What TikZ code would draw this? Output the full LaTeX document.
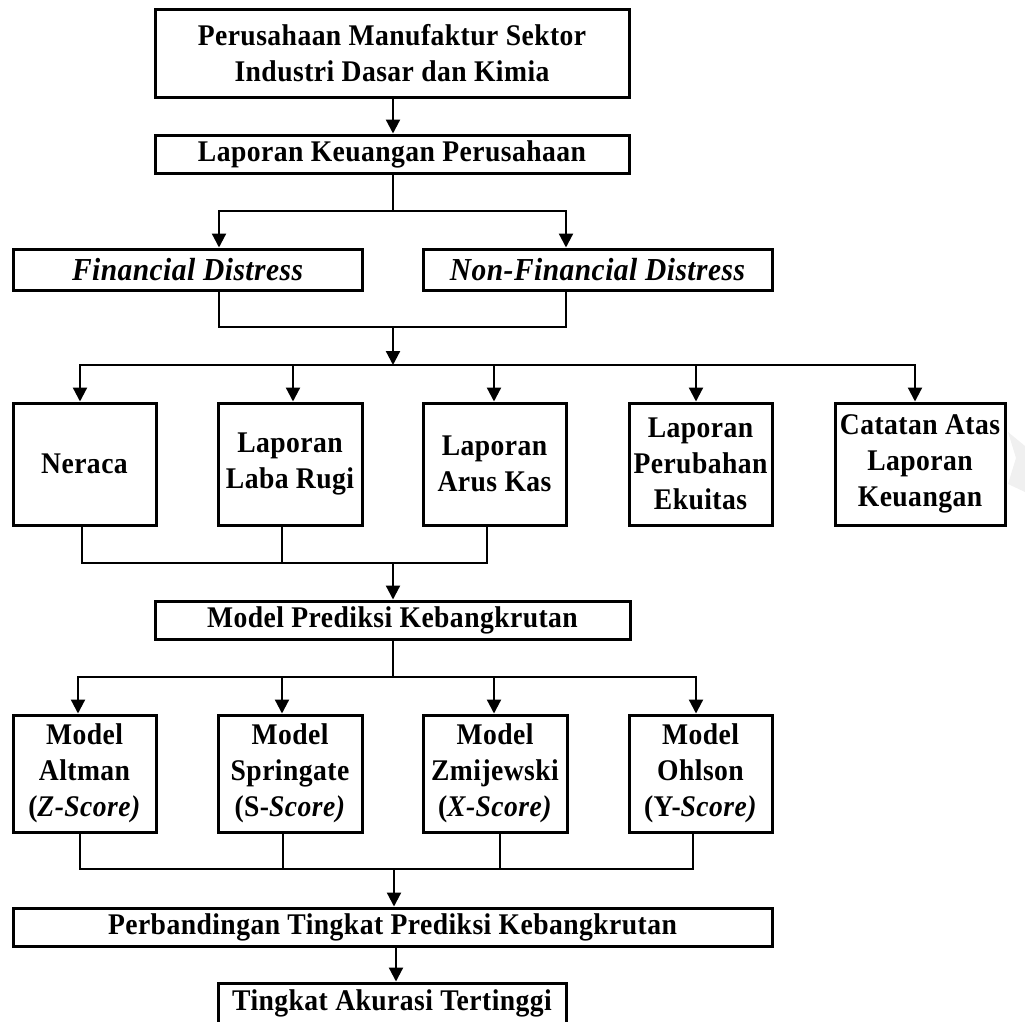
\documentclass[tikz,border=0pt]{standalone}
\usepackage{fontspec}
\setmainfont{Liberation Serif}[FakeStretch=0.92, LetterSpace=1.5]
\usetikzlibrary{arrows.meta,calc}
\tikzset{
  box/.style={draw, line width=3pt, inner sep=0pt, align=center,
    font=\fontsize{30}{36}\selectfont\bfseries},
  itbox/.style={box, font=\fontsize{32}{36}\selectfont\bfseries\itshape},
  conn/.style={line width=2.2pt},
  arr/.style={line width=2.2pt, -{Triangle[length=14pt,width=14pt]}},
}
\begin{document}
\begin{tikzpicture}[x=1pt,y=-1pt]
\useasboundingbox (0,0) rectangle (1025,1021);
% faint watermark fragment
\fill[gray!12] (1008,432) -- (1025,446) -- (1025,492) -- (1008,484) -- (1016,458) -- cycle;

% nodes
\node[box, minimum width=474pt, minimum height=88pt] (top) at (392,53)
  {Perusahaan Manufaktur Sektor\\Industri Dasar dan Kimia};
\node[box, minimum width=474pt, minimum height=38pt] (lk) at (392,154)
  {Laporan Keuangan Perusahaan};
\node[itbox, minimum width=349pt, minimum height=41pt] (fd) at (187.5,269.5)
  {Financial Distress};
\node[itbox, minimum width=349pt, minimum height=41pt] (nfd) at (597.5,269.5)
  {Non-Financial Distress};

\node[box, minimum width=143pt, minimum height=122pt] (ner) at (84.5,464) {Neraca};
\node[box, minimum width=144pt, minimum height=122pt] (llr) at (290,464) {Laporan\\Laba Rugi};
\node[box, minimum width=143pt, minimum height=122pt] (lak) at (494.5,464) {Laporan\\Arus Kas};
\node[box, minimum width=143pt, minimum height=122pt] (lpe) at (700.5,464) {Laporan\\Perubahan\\Ekuitas};
\node[box, minimum width=170pt, minimum height=122pt] (calk) at (920,464) {Catatan Atas\\Laporan\\Keuangan};

\node[box, minimum width=475pt, minimum height=38pt] (mpk) at (392.5,620)
  {Model Prediksi Kebangkrutan};

\node[box, minimum width=143pt, minimum height=117pt] (alt) at (84.5,773.5)
  {Model\\Altman\\(\textit{Z-Score)}};
\node[box, minimum width=144pt, minimum height=117pt] (spr) at (290,773.5)
  {Model\\Springate\\(S-\textit{Score)}};
\node[box, minimum width=144pt, minimum height=117pt] (zmi) at (495,773.5)
  {Model\\Zmijewski\\(\textit{X-Score)}};
\node[box, minimum width=143pt, minimum height=117pt] (ohl) at (700.5,773.5)
  {Model\\Ohlson\\(Y-\textit{Score)}};

\node[box, minimum width=759pt, minimum height=38pt] (pb) at (392.5,927)
  {Perbandingan Tingkat Prediksi Kebangkrutan};
\node[box, minimum width=348pt, minimum height=40pt] (ta) at (392,1003)
  {Tingkat Akurasi Tertinggi};

% junction coordinates
\coordinate (j1) at (393,211);
\coordinate (j2) at (393,327);
\coordinate (j3) at (393,365);
\coordinate (j4) at (393,563);
\coordinate (j5) at (393,677);
\coordinate (j6) at (394,869);
\coordinate (j7) at (396,946);

% connectors
\draw[arr] (top.south -| j1) -- (lk.north -| j1);
\draw[conn] (lk.south -| j1) -- (j1);
\draw[arr] (j1) -| ([xshift=31.5pt]fd.north);
\draw[arr] (j1) -| ([xshift=-31.5pt]nfd.north);

\draw[conn] ([xshift=31.5pt]fd.south) |- (j2);
\draw[conn] ([xshift=-31.5pt]nfd.south) |- (j2);
\draw[arr] (j2) -- (j3);
\draw[arr] (j3) -| ([xshift=-4.5pt]ner.north);
\draw[arr] (j3) -| ([xshift=3pt]llr.north);
\draw[arr] (j3) -| ([xshift=-0.5pt]lak.north);
\draw[arr] (j3) -| ([xshift=-4.5pt]lpe.north);
\draw[arr] (j3) -| ([xshift=-5pt]calk.north);

\draw[conn] ([xshift=-2.5pt]ner.south) |- (j4);
\draw[conn] ([xshift=-8pt]llr.south) |- (j4);
\draw[conn] ([xshift=-7.5pt]lak.south) |- (j4);
\draw[arr] (j4) -- (j4 |- mpk.north);

\draw[conn] (mpk.south -| j5) -- (j5);
\draw[arr] (j5) -| ([xshift=-6.5pt]alt.north);
\draw[arr] (j5) -| ([xshift=-8pt]spr.north);
\draw[arr] (j5) -| ([xshift=-1pt]zmi.north);
\draw[arr] (j5) -| ([xshift=-4.5pt]ohl.north);

\draw[conn] ([xshift=-4.5pt]alt.south) |- (j6);
\draw[conn] ([xshift=-7pt]spr.south) |- (j6);
\draw[conn] ([xshift=5pt]zmi.south) |- (j6);
\draw[conn] ([xshift=-7.5pt]ohl.south) |- (j6);
\draw[arr] (j6) -- (j6 |- pb.north);

\draw[arr] (j7) -- (j7 |- ta.north);
\end{tikzpicture}
\end{document}
